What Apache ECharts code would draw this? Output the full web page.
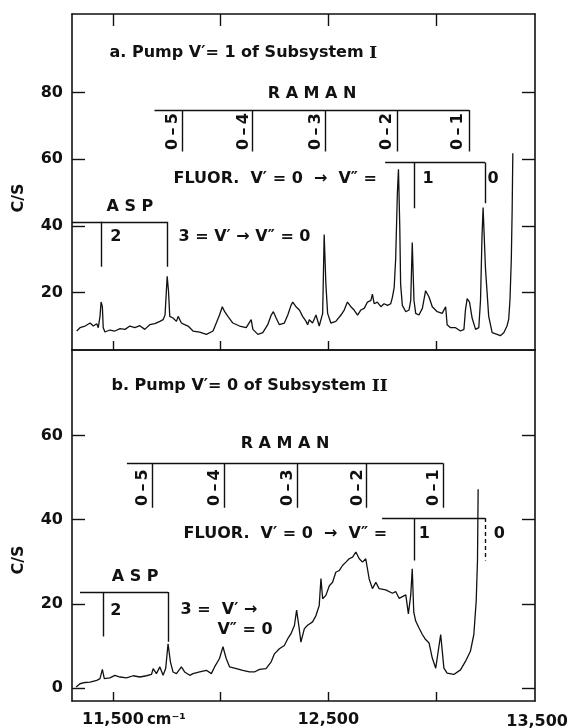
<!DOCTYPE html>
<html>
<head>
<meta charset="utf-8">
<script src="https://cdn.jsdelivr.net/npm/echarts@6/dist/echarts.min.js"></script>
<style>
  html, body { margin: 0; background: #fff; }
  #chart { width: 570px; height: 728px; }
</style>
</head>
<body>
<div id="chart"></div>
<script>
// panel a: pump v'=1 of subsystem I
var waveA = [11332, 11347, 11371, 11394, 11409, 11425, 11432, 11440, 11445, 11451, 11455, 11463, 11486, 11509, 11533, 11556,
  11579, 11602, 11625, 11648, 11671, 11695, 11718, 11733, 11742, 11752, 11758, 11764, 11779, 11795, 11803, 11818, 11833,
  11849, 11872, 11903, 11934, 11965, 11980, 11995, 12008, 12019, 12034, 12057, 12088, 12119, 12142, 12150, 12173, 12196,
  12219, 12235, 12245, 12258, 12273, 12296, 12312, 12327, 12335, 12350, 12366, 12381, 12397, 12404, 12412, 12427, 12443,
  12458, 12474, 12481, 12489, 12497, 12512, 12535, 12559, 12574, 12589, 12605, 12620, 12636, 12651, 12667, 12682, 12698,
  12705, 12713, 12728, 12744, 12759, 12775, 12790, 12798, 12806, 12813, 12821, 12826, 12832, 12836, 12844, 12860, 12875,
  12883, 12890, 12898, 12906, 12921, 12937, 12952, 12968, 12983, 13006, 13029, 13045, 13052, 13068, 13091, 13114, 13130,
  13137, 13145, 13156, 13168, 13184, 13199, 13207, 13214, 13219, 13230, 13245, 13261, 13284, 13299, 13315, 13330, 13338,
  13344, 13350, 13354, 13357];
var countsA = [8.4, 9.4, 9.9, 10.8, 9.9, 10.6, 9.4, 12.8, 17.1, 15.7, 9.4, 8.1, 8.7, 8.4, 9.1, 8.9,
  9.9, 9.4, 10.0, 8.9, 10.3, 10.6, 11.3, 11.8, 13.2, 24.8, 20.5, 12.8, 12.3, 11.3, 12.8, 10.8, 10.3,
  9.9, 8.4, 8.1, 7.4, 8.4, 10.8, 13.2, 15.7, 14.2, 12.8, 10.8, 9.9, 9.4, 11.8, 8.9, 7.4, 7.9,
  10.3, 13.2, 14.2, 12.3, 10.3, 10.8, 13.2, 16.1, 17.1, 15.7, 14.7, 12.8, 11.3, 10.3, 11.8, 10.8, 13.2,
  9.9, 13.7, 37.4, 22.4, 13.7, 10.8, 11.3, 13.2, 14.7, 17.1, 15.7, 14.7, 13.2, 14.7, 15.2, 17.1, 17.6,
  19.5, 16.6, 17.1, 15.7, 16.6, 16.1, 16.6, 18.6, 21.4, 30, 50, 57, 40, 22.4, 16.1, 14.2, 14.7,
  17.6, 35, 17.6, 13.7, 13.2, 15.2, 20.5, 18.6, 15.7, 14.2, 13.7, 15.7, 10.3, 9.4, 9.4, 8.4, 8.9,
  14.7, 18.1, 17.1, 12.3, 8.9, 9.4, 17.6, 36.9, 45.5, 27.2, 12.8, 7.9, 7.4, 7.0, 7.9, 9.9, 12,
  18, 30, 45, 61.8];

// panel b: pump v'=0 of subsystem II
var waveB = [11329, 11347, 11371, 11394, 11425, 11440, 11451, 11460, 11486, 11509, 11533, 11563, 11594, 11625, 11656, 11679,
  11687, 11702, 11718, 11733, 11745, 11756, 11767, 11779, 11795, 11818, 11833, 11857, 11872, 11903, 11934, 11957, 11972,
  11995, 12011, 12026, 12042, 12073, 12103, 12134, 12157, 12181, 12211, 12235, 12250, 12273, 12296, 12312, 12327, 12343,
  12353, 12363, 12373, 12389, 12404, 12427, 12443, 12458, 12466, 12474, 12489, 12505, 12520, 12535, 12551, 12566, 12582,
  12597, 12613, 12628, 12644, 12659, 12674, 12690, 12705, 12721, 12736, 12767, 12798, 12813, 12829, 12860, 12872, 12883,
  12890, 12897, 12906, 12921, 12937, 12952, 12968, 12983, 12999, 13022, 13037, 13052, 13083, 13114, 13137, 13160, 13176,
  13187, 13193, 13196];
var countsB = [0.2, 1.0, 1.3, 1.4, 1.8, 2.2, 4.4, 2.2, 2.4, 3.0, 2.6, 2.4, 2.9, 2.6, 2.9, 3.2,
  4.6, 3.4, 5.0, 3.0, 4.6, 10.5, 6.2, 3.8, 3.4, 5.0, 3.8, 3.0, 3.4, 3.8, 4.2, 3.4, 5.0,
  7.0, 9.8, 7.0, 5.0, 4.6, 4.2, 3.8, 3.8, 4.4, 4.6, 6.2, 8.1, 9.3, 10.1, 11.7, 12.9, 14.9,
  18.5, 14.9, 10.9, 14.1, 14.9, 15.7, 17.2, 19.6, 26, 21.2, 22.0, 24.3, 25.1, 27.5, 27.9, 29.1, 29.9,
  30.7, 31.1, 32.3, 30.7, 29.9, 30.7, 25.9, 23.6, 25.1, 23.6, 23.3, 22.5, 22.9, 21.3, 22.1, 17.6, 22.1,
  28.3, 18, 15.9, 14.3, 12.7, 11.5, 10.7, 7.1, 4.7, 12.7, 4.7, 3.5, 3.2, 4.3, 6.3, 8.7, 12.7,
  20.7, 30.4, 47.2];

// axes
var waveMin = 11310, waveMax = 13460;
var waveTicks = [11500, 12000, 12500, 13000];
var waveLabels = [11500, 12500];
var countRangeA = [2.7, 103.6], countTicksA = [20, 40, 60, 80];
var countRangeB = [-3.1, 80.3], countTicksB = [0, 20, 40, 60];

// assignment brackets (cm-1 positions, c/s levels)
var ramanNames = ['0\u2009–\u20095', '0\u2009–\u20094', '0\u2009–\u20093', '0\u2009–\u20092', '0\u2009–\u20091'];
var ramanPosA = [11823, 12149, 12487, 12819, 13154];
var ramanNameXA = [11776, 12106, 12440, 12770, 13104];
var ramanPosB = [11682, 12016, 12355, 12676, 13033];
var ramanNameXB = [11637, 11972, 12311, 12636, 12989];

var fluorPosA = [12899, 13228], fluorPosB = [12899, 13228];
var aspPosA = [11445, 11751], aspPosB = [11454, 11756];

var notesA = ['a. Pump V′= 1 of Subsystem {r|I}', 'R A M A N', 'FLUOR.  V′ = 0  →  V″ =', '1', '0', 'A S P', '2', '3 = V′ → V″ = 0'];
var notesAX = [11482, 12425, 11779, 12963, 13265, 11579, 11514, 11802];
var notesAY = [91.8, 79.5, 54.2, 54.2, 54.2, 45.8, 36.6, 36.6];
var notesAAlign = ['left', 'center', 'left', 'center', 'center', 'center', 'center', 'left'];

var notesB = ['b. Pump V′= 0 of Subsystem {r|II}', 'R A M A N', 'FLUOR.  V′ = 0  →  V″ =', '1', '0', 'A S P', '2', '3 =  V′ →', 'V″ = 0'];
var notesBX = [11491, 12299, 11826, 12946, 13294, 11603, 11514, 11812, 11983];
var notesBY = [71.7, 58, 36.6, 36.6, 36.6, 26.4, 18.4, 18.6, 13.8];
var notesBAlign = ['left', 'center', 'left', 'center', 'center', 'center', 'center', 'left', 'left'];

var FONT = 'DejaVu Sans';
var INK = '#111';

function pairs(xs, ys) {
  return xs.map(function (x, i) { return [x, ys[i]]; });
}

function bracketLines(raman, ramanStart, ramanTop, ramanBottom, fluor, fluorStart, fluorTop, fluorBottom, asp, aspStart, aspTop, aspBottom, dashLast) {
  var out = [];
  out.push({ coords: [[ramanStart, ramanTop], [raman[raman.length - 1], ramanTop]] });
  raman.forEach(function (x) { out.push({ coords: [[x, ramanTop], [x, ramanBottom]] }); });
  out.push({ coords: [[fluorStart, fluorTop], [fluor[1], fluorTop]] });
  out.push({ coords: [[fluor[0], fluorTop], [fluor[0], fluorBottom[0]]] });
  out.push({ coords: [[fluor[1], fluorTop], [fluor[1], fluorBottom[1]]], lineStyle: dashLast ? { type: [4, 3] } : {} });
  out.push({ coords: [[aspStart, aspTop], [asp[1], aspTop]] });
  asp.forEach(function (x, i) { out.push({ coords: [[x, aspTop], [x, aspBottom[i]]] }); });
  return out;
}

function notePoints(texts, xs, ys, aligns) {
  return texts.map(function (t, i) {
    return {
      value: [xs[i], ys[i]],
      label: { formatter: t, position: aligns[i] === 'left' ? 'right' : 'inside', distance: 0 }
    };
  });
}

function ramanNamePoints(xs, y) {
  return xs.map(function (x, i) {
    return { value: [x, y], label: { formatter: ramanNames[i], rotate: 90, position: 'inside', fontSize: 16 } };
  });
}

var noteLabel = {
  show: true, color: INK, fontFamily: FONT, fontSize: 16, fontWeight: 'bold',
  textBorderWidth: 0, opacity: 1,
  rich: { r: { fontFamily: 'DejaVu Serif', fontSize: 17, fontWeight: 'bold', color: INK } }
};

function xAxis(grid, pos, tickLen, labels) {
  return {
    type: 'value', gridIndex: grid, position: pos, min: waveMin, max: waveMax,
    axisLine: { show: true, onZero: false, lineStyle: { color: INK, width: 1.6 } },
    axisTick: { show: tickLen > 0, inside: true, length: tickLen, customValues: waveTicks, lineStyle: { color: INK, width: 1.4 } },
    axisLabel: labels ? {
      show: true, customValues: waveLabels, margin: 11, color: INK, fontFamily: FONT, fontSize: 16, fontWeight: 'bold',
      formatter: function (v) {
        return v === 11500 ? '{s|}11,500{u| cm⁻¹}' : '12,500';
      },
      rich: {
        s: { width: 40 },
        u: { width: 40, fontFamily: FONT, fontSize: 15, fontWeight: 'bold', color: INK }
      }
    } : { show: false },
    splitLine: { show: false }
  };
}

function yAxis(grid, pos, range, ticks, labels) {
  return {
    type: 'value', gridIndex: grid, position: pos, min: range[0], max: range[1],
    axisLine: { show: true, onZero: false, lineStyle: { color: INK, width: 1.6 } },
    axisTick: { show: true, inside: true, length: 13, customValues: ticks, lineStyle: { color: INK, width: 1.4 } },
    axisLabel: labels ? { show: true, customValues: ticks, margin: 9, color: INK, fontFamily: FONT, fontSize: 16, fontWeight: 'bold' } : { show: false },
    splitLine: { show: false }
  };
}

function sideTexts(lastX) {
  var font = 'bold 16px "DejaVu Sans"';
  var out = [
    { type: 'text', x: 19, y: 198, rotation: Math.PI / 2, style: { text: 'C/S', font: font, fill: INK, align: 'center', verticalAlign: 'middle' } },
    { type: 'text', x: 19, y: 560, rotation: Math.PI / 2, style: { text: 'C/S', font: font, fill: INK, align: 'center', verticalAlign: 'middle' } }
  ];
  if (lastX != null) {
    // keep the whole label on the canvas
    out.push({ type: 'text', x: Math.min(lastX + 32, 568), y: 714, style: { text: '13,500', font: font, fill: INK, align: 'right', verticalAlign: 'top' } });
  }
  return out;
}

var chart = echarts.init(document.getElementById('chart'), null, { renderer: 'canvas' });

var noteSeries = {
  type: 'scatter', symbolSize: 1, silent: true,
  itemStyle: { color: 'rgba(0,0,0,0)', opacity: 1 },
  label: noteLabel
};

chart.setOption({
  backgroundColor: '#fff',
  animation: false,
  grid: [
    { left: 72, right: 35, top: 14, height: 336 },
    { left: 72, right: 35, top: 350, height: 352 }
  ],
  xAxis: [
    xAxis(0, 'bottom', 9, false),
    xAxis(0, 'top', 12, false),
    xAxis(1, 'bottom', 9, true),
    xAxis(1, 'top', 0, false)
  ],
  yAxis: [
    yAxis(0, 'left', countRangeA, countTicksA, true),
    yAxis(0, 'right', countRangeA, countTicksA, false),
    yAxis(1, 'left', countRangeB, countTicksB, true),
    yAxis(1, 'right', countRangeB, countTicksB, false)
  ],
  graphic: sideTexts(null),
  series: [
    {
      type: 'line', xAxisIndex: 0, yAxisIndex: 0, data: pairs(waveA, countsA),
      showSymbol: false, lineStyle: { color: INK, width: 1.3 }
    },
    {
      type: 'line', xAxisIndex: 2, yAxisIndex: 2, data: pairs(waveB, countsB),
      showSymbol: false, lineStyle: { color: INK, width: 1.3 }
    },
    {
      type: 'lines', coordinateSystem: 'cartesian2d', xAxisIndex: 0, yAxisIndex: 0,
      lineStyle: { color: INK, width: 1.4, opacity: 1 },
      data: bracketLines(ramanPosA, 11693, 74.8, 62.3, fluorPosA, 12764, 59, [45.3, 46.8], aspPosA, waveMin, 41.2, [27.7, 27.7], false)
    },
    {
      type: 'lines', coordinateSystem: 'cartesian2d', xAxisIndex: 2, yAxisIndex: 2,
      lineStyle: { color: INK, width: 1.4, opacity: 1 },
      data: bracketLines(ramanPosB, 11565, 53.4, 42.8, fluorPosB, 12750, 40.4, [30.3, 30.3], aspPosB, 11347, 22.8, [12.2, 11], true)
    },
    Object.assign({}, noteSeries, {
      xAxisIndex: 0, yAxisIndex: 0,
      data: notePoints(notesA, notesAX, notesAY, notesAAlign).concat(ramanNamePoints(ramanNameXA, 68.3))
    }),
    Object.assign({}, noteSeries, {
      xAxisIndex: 2, yAxisIndex: 2,
      data: notePoints(notesB, notesBX, notesBY, notesBAlign).concat(ramanNamePoints(ramanNameXB, 47.6))
    })
  ]
});

// last wavenumber label sits just past the frame edge
chart.setOption({ graphic: sideTexts(chart.convertToPixel({ xAxisIndex: 2 }, 13500)) });
</script>
</body>
</html>
